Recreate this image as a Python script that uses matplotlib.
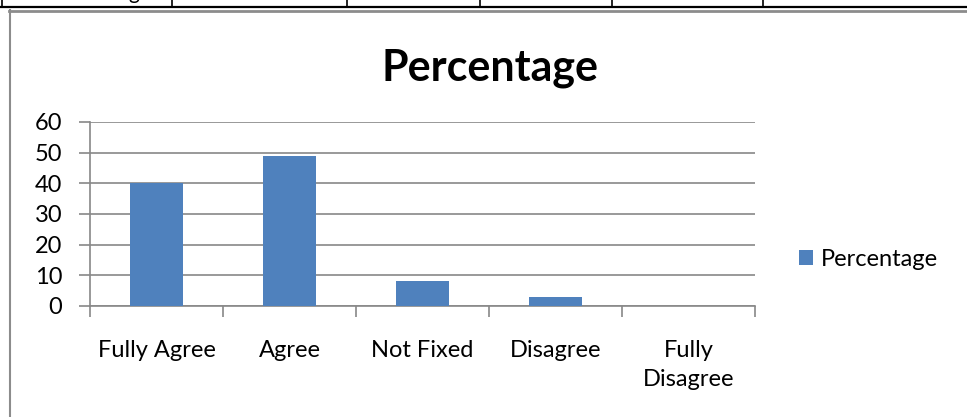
import matplotlib.pyplot as plt
from matplotlib.lines import Line2D

categories = ['Fully Agree', 'Agree', 'Not Fixed', 'Disagree', 'Fully\nDisagree']
percentage = [40, 49, 8, 3, 0]
yticks = [0, 10, 20, 30, 40, 50, 60]

plt.rcParams['font.family'] = ['Lato', 'DejaVu Sans']

fig = plt.figure(figsize=(9.67, 4.17), dpi=100)
W, H = 967, 417

# leftover table row above the chart
tbl_x = [2, 172, 347, 480, 612, 763]
fig.add_artist(Line2D([0, 1], [1 - 7 / H, 1 - 7 / H], color='black', lw=1.6))
for xv in tbl_x:
    fig.add_artist(Line2D([xv / W, xv / W], [1, 1 - 7 / H], color='black', lw=1.2))
fig.text(134 / W, 1 + 1 / H, 'g', fontsize=15, ha='center', va='baseline')
# chart border
fig.add_artist(Line2D([9 / W, 1], [1 - 10.5 / H, 1 - 10.5 / H], color='#8c8c8c', lw=2))
fig.add_artist(Line2D([10 / W, 10 / W], [0, 1 - 10 / H], color='#8c8c8c', lw=1.5))

ax = fig.add_axes([90 / W, 1 - 306 / H, 665 / W, 184 / H])
x = range(len(categories))
ax.bar(x, percentage, width=0.4, color='#4f81bd', label='Percentage', zorder=3)
ax.set_xlim(-0.5, len(categories) - 0.5)
ax.set_ylim(0, 60)
ax.set_yticks(yticks)
ax.set_yticklabels([str(v) for v in yticks], fontsize=17)
ax.yaxis.grid(True, color='#888888', lw=1.2, zorder=0)
ax.set_xticks([i - 0.5 for i in range(len(categories) + 1)])
ax.set_xticklabels([])
# category labels (multi-line one needs a wider line pitch)
for i, c in zip(x, categories):
    ax.annotate(c, xy=(i, 0), xycoords=('data', 'axes fraction'),
                xytext=(0, -34), textcoords='offset pixels',
                ha='center', va='top', fontsize=17, linespacing=1.5)
ax.tick_params(axis='x', which='major', direction='out', length=8, color='#888888', width=1.2)
ax.tick_params(axis='y', direction='out', length=8, color='#888888', width=1.2, pad=12)
for s in ['top', 'right']:
    ax.spines[s].set_visible(False)
for s in ['left', 'bottom']:
    ax.spines[s].set_color('#888888')
    ax.spines[s].set_linewidth(1.2)

fig.text(490 / W, 1 - 81 / H, 'Percentage', fontsize=31, fontweight='bold',
         ha='center', va='baseline')
ax.legend(loc='center left', bbox_to_anchor=(1.066, 0.255), frameon=False,
          fontsize=17, handlelength=0.6, handleheight=0.6, handletextpad=0.35,
          borderpad=0, borderaxespad=0)

fig.savefig('out.png', dpi=100)
